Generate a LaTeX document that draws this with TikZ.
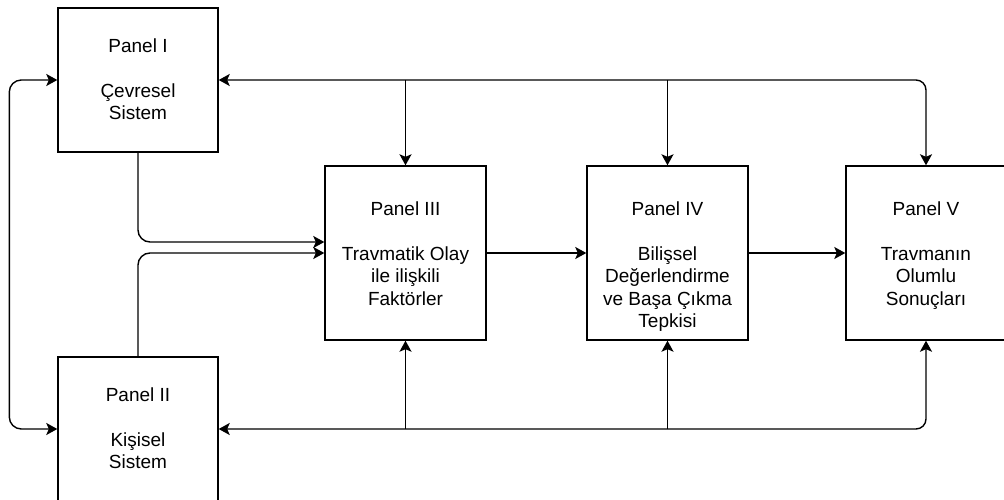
\documentclass[tikz,border=0pt]{standalone}
\usepackage{fontspec}
\setmainfont{Liberation Sans}
\usetikzlibrary{arrows.meta, positioning}

\begin{document}
\begin{tikzpicture}[x=1pt, y=-1pt, line width=1.4pt,
	panel/.style={draw, rectangle, minimum width=160pt, minimum height=144pt, inner sep=0pt},
	ptext/.style={align=center, inner sep=0pt, font=\fontsize{19}{22.4}\selectfont},
	arr/.style={-{Stealth[length=11pt, width=12pt, inset=2.5pt]}},
	darr/.style={{Stealth[length=11pt, width=12pt, inset=2.5pt]}-{Stealth[length=11pt, width=12pt, inset=2.5pt]}}]
				\useasboundingbox (0,0) rectangle (1004,500);
				\node[panel] (PI)at(138, 80) {};
				\node[panel] (PII)at(138, 429) {};
				\node[panel, minimum width=161pt, minimum height=174pt] (PIII)at(405.5, 253) {};
				\node[panel, minimum width=161pt, minimum height=174pt] (PIV)at(667.5, 253) {};
				\node[panel, minimum height=174pt] (PV)at(926, 253) {};
				\node[ptext, below=31pt of PI.north] (TI) {Panel I\\[22.4pt]Çevresel\\Sistem};
				\node[ptext, below=31pt of PII.north] (TII) {Panel II\\[22.4pt]Kişisel\\Sistem};
				\node[ptext, below=36pt of PIII.north] (TIII) {Panel III\\[22.4pt]Travmatik Olay\\ile ilişkili\\Faktörler};
				\node[ptext, below=36pt of PIV.north] (TIV) {Panel IV\\[22.4pt]Bilişsel\\Değerlendirme\\ve Başa Çıkma\\Tepkisi};
				\node[ptext, below=36pt of PV.north] (TV) {Panel V\\[22.4pt]Travmanın\\Olumlu\\Sonuçları};
				\draw[darr, rounded corners=10pt] (PI.east) -| (PV.north);
				\draw[arr] (PIII.north |- PI.east) -- (PIII.north);
				\draw[arr] (PIV.north |- PI.east) -- (PIV.north);
				\draw[darr, rounded corners=10pt] (PII.east) -| (PV.south);
				\draw[arr] (PIII.south |- PII.east) -- (PIII.south);
				\draw[arr] (PIV.south |- PII.east) -- (PIV.south);
				\draw[darr, rounded corners=12pt] (PI.west) -- ++(-48, 0) |- (PII.west);
				\draw[arr, rounded corners=12pt] (PI.south) |- ([yshift=11pt]PIII.west);
				\draw[arr, rounded corners=12pt] (PII.north) |- (PIII.west);
				\draw[arr] (PIII) -- (PIV);
				\draw[arr] (PIV) -- (PV);
			\end{tikzpicture}
\end{document}
